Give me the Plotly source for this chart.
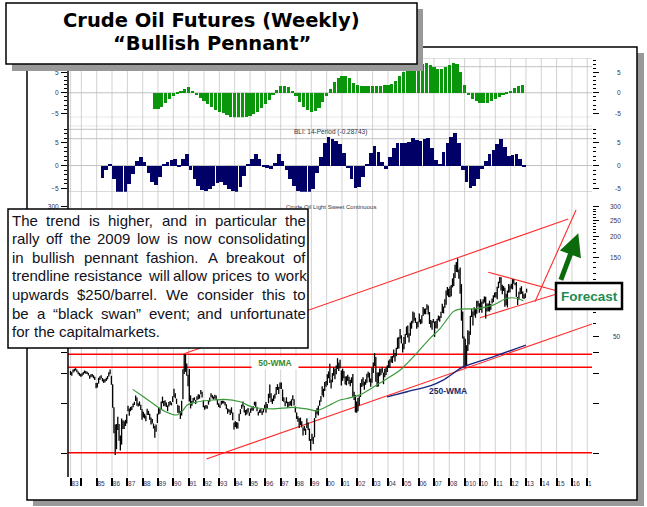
import math
import plotly.graph_objects as go

# ---------------- data ----------------
first_year, first_month = 1983, 4   # first monthly bar (Apr 1983)

price_low = [
    29.5, 29.2, 30.5, 31.0, 31.4, 30.6, 29.8, 29.2, 28.8,
    29.0, 29.6, 30.2, 30.0, 29.9, 29.3, 28.0, 28.6, 28.8, 28.2, 27.5, 24.6,
    24.8, 26.2, 27.5, 28.2, 27.0, 26.4, 26.7, 27.2, 27.8, 28.9, 29.8, 25.8,
    18.8, 13.2, 9.8, 10.6, 13.8, 11.9, 10.4, 11.3, 14.0, 14.0, 14.6, 15.1,
    17.9, 16.8, 17.9, 18.2, 18.9, 19.5, 20.6, 19.3, 19.1, 19.3, 18.2, 15.9,
    16.4, 16.2, 15.6, 17.0, 17.0, 15.9, 14.9, 15.1, 14.1, 12.4, 13.5, 15.2,
    17.1, 17.3, 18.4, 20.0, 19.2, 19.3, 19.0, 17.9, 19.1, 19.6, 19.4, 20.3,
    21.8, 21.4, 19.8, 17.5, 17.4, 16.1, 16.9, 21.1, 29.9, 30.8, 29.2, 25.3,
    20.5, 18.6, 19.3, 20.2, 20.8, 19.8, 20.9, 21.1, 21.3, 22.6, 21.6, 18.9,
    18.3, 18.6, 18.5, 19.6, 20.4, 21.7, 21.3, 21.0, 21.3, 20.9, 19.6, 19.0,
    18.7, 19.6, 19.9, 19.9, 19.4, 18.4, 17.3, 17.7, 17.0, 17.4, 15.8, 13.9,
    14.4, 14.1, 14.1, 15.6, 17.2, 18.5, 19.1, 17.6, 16.9, 17.1, 17.6, 16.8,
    17.5, 18.1, 18.0, 19.4, 19.0, 17.9, 16.9, 17.5, 17.5, 17.0, 17.6, 18.4,
    17.5, 18.6, 20.0, 21.5, 20.3, 19.8, 20.6, 21.3, 22.5, 24.0, 22.7, 24.4,
    24.3, 20.6, 20.3, 19.2, 20.0, 18.8, 19.1, 19.4, 19.2, 20.8, 19.4, 17.6,
    16.1, 15.5, 14.2, 14.8, 14.3, 12.8, 13.7, 12.9, 14.2, 13.8, 11.9, 10.4,
    11.9, 11.4, 12.5, 16.3, 17.2, 16.9, 19.3, 20.4, 22.2, 21.7, 23.7, 25.1,
    25.6, 28.2, 26.4, 24.5, 26.7, 29.2, 27.8, 29.8, 32.1, 31.2, 32.4, 25.5,
    27.2, 28.2, 25.9, 25.6, 27.2, 26.0, 25.3, 26.4, 21.8, 20.9, 17.6, 17.5,
    17.9, 19.4, 21.8, 25.0, 25.4, 24.1, 25.8, 26.5, 28.5, 26.7, 25.1, 26.5,
    30.3, 33.4, 26.9, 25.0, 25.2, 29.0, 29.5, 30.4, 26.0, 28.6, 29.5, 30.7,
    32.5, 32.6, 35.0, 34.8, 37.6, 35.6, 38.2, 42.2, 42.5, 48.6, 45.6, 40.3,
    42.1, 45.2, 51.2, 49.5, 46.2, 50.7, 55.9, 60.2, 62.4, 60.5, 55.9, 57.0,
    61.0, 59.4, 60.1, 66.5, 68.2, 68.3, 72.8, 68.0, 59.6, 56.8, 55.0, 60.7,
    49.9, 56.3, 56.0, 62.6, 61.5, 64.8, 69.4, 69.0, 74.6, 77.7, 88.3, 86.6,
    86.1, 87.5, 98.7, 100.5, 112.3, 122.3, 121.6, 111.3, 90.5, 62.4, 48.8, 32.8,
    33.2, 33.6, 41.1, 45.0, 51.3, 65.6, 58.3, 67.0, 65.0, 68.6, 75.9, 69.5,
    72.4, 69.5, 78.7, 80.1, 64.2, 70.8, 71.0, 70.8, 72.6, 79.0, 80.6, 86.0,
    86.0, 84.0, 97.7, 104.6, 94.6, 89.7, 94.0, 75.7, 77.1, 74.9, 91.8, 92.5,
    97.0, 96.1, 104.0, 101.6, 86.6, 77.3, 83.6, 89.7, 90.4, 84.6, 84.1, 85.3,
    92.0,
]
price_high = [
    31.2, 30.8, 31.8, 32.2, 32.4, 31.8, 31.0, 30.4, 29.9,
    30.2, 30.8, 31.4, 31.2, 30.9, 30.4, 29.4, 29.8, 29.9, 29.4, 28.8, 26.5,
    26.4, 28.4, 29.0, 29.4, 28.3, 27.8, 27.9, 28.4, 29.1, 30.6, 31.8, 29.2,
    26.0, 18.9, 14.9, 15.0, 16.6, 15.0, 12.8, 16.2, 15.8, 15.6, 15.9, 17.2,
    19.3, 18.6, 19.0, 19.2, 19.9, 20.4, 22.2, 21.6, 20.0, 20.5, 19.6, 18.4,
    17.8, 17.3, 16.9, 18.5, 18.0, 17.3, 16.4, 16.1, 15.1, 14.6, 14.9, 17.3,
    18.9, 18.5, 20.5, 21.9, 20.6, 20.8, 20.2, 19.4, 20.3, 20.6, 20.2, 22.0,
    24.4, 22.9, 21.3, 19.6, 19.3, 17.9, 20.7, 31.9, 39.3, 39.2, 34.6, 29.6,
    32.0, 22.3, 20.6, 21.5, 21.7, 20.9, 22.0, 22.6, 22.5, 24.0, 23.4, 20.8,
    19.3, 19.5, 19.4, 20.8, 21.6, 22.9, 22.4, 21.9, 22.5, 22.2, 21.0, 20.0,
    19.6, 20.7, 20.7, 20.7, 20.3, 19.7, 18.6, 18.4, 18.3, 18.9, 17.6, 15.3,
    15.6, 15.4, 15.3, 17.3, 18.4, 19.6, 20.5, 19.3, 18.2, 18.4, 18.7, 17.6,
    18.6, 18.9, 19.2, 20.4, 20.4, 19.0, 17.8, 18.3, 18.6, 17.9, 18.5, 19.6,
    20.3, 19.8, 22.8, 25.9, 22.9, 21.3, 22.3, 22.8, 25.0, 26.0, 25.0, 26.6,
    26.6, 24.2, 21.7, 20.5, 21.7, 20.4, 20.3, 20.6, 21.1, 22.3, 21.1, 19.1,
    17.6, 16.7, 16.3, 16.4, 15.6, 14.3, 14.6, 14.1, 16.2, 15.3, 14.1, 12.2,
    13.1, 12.6, 16.3, 18.2, 18.7, 19.3, 20.8, 22.1, 25.3, 24.4, 26.8, 27.2,
    29.8, 31.0, 34.4, 27.6, 30.3, 33.0, 32.2, 33.6, 37.2, 35.0, 36.4, 31.4,
    32.2, 31.2, 28.9, 29.0, 29.6, 28.8, 27.6, 28.6, 29.9, 23.4, 22.4, 20.5,
    21.5, 22.0, 26.4, 27.8, 28.6, 26.9, 27.8, 30.0, 30.9, 30.4, 28.1, 32.7,
    35.0, 39.9, 37.8, 30.5, 30.6, 32.3, 32.2, 32.8, 30.5, 32.2, 33.0, 33.7,
    36.0, 36.6, 38.2, 38.4, 41.9, 40.0, 43.0, 49.4, 49.9, 55.7, 51.0, 45.5,
    49.8, 51.9, 57.6, 58.3, 52.5, 60.9, 62.3, 70.8, 69.8, 65.0, 61.2, 61.8,
    69.0, 63.7, 67.2, 75.3, 73.7, 73.9, 78.4, 77.0, 70.3, 62.9, 62.2, 63.8,
    61.6, 62.1, 64.0, 67.0, 66.3, 70.5, 78.8, 75.8, 83.9, 94.7, 99.3, 96.8,
    100.1, 102.1, 111.8, 119.9, 135.1, 140.4, 147.3, 126.5, 130.0, 103.3, 70.8, 50.2,
    48.6, 44.5, 54.7, 54.0, 66.7, 73.4, 70.9, 75.0, 73.4, 82.0, 82.0, 79.4,
    83.9, 81.0, 83.8, 87.2, 86.8, 79.1, 79.0, 82.3, 78.5, 84.6, 88.6, 92.0,
    92.6, 99.5, 106.9, 113.9, 113.5, 102.4, 100.6, 98.3, 90.5, 94.6, 103.4, 101.2,
    103.7, 110.6, 110.0, 105.0, 106.5, 86.6, 92.9, 98.3, 100.4, 93.4, 89.9, 91.1,
    97.0,
]

# momentum oscillator (top, green) - quarterly readings
osc_top_start = 1988.75
osc_top_values = [
    -4.0,
    -3.9, -3.5, -2.6, -1.6,  -0.8, -0.3, 0.3, 1.0,  1.5, 0.5, -0.5, -1.2,
    -2.0, -2.8, -3.5, -4.2,  -4.7, -5.0, -5.3, -5.8,  -6.3, -6.5, -6.4, -6.0,
    -5.6, -5.2, -4.6, -3.8,  -2.8, -1.8, -0.6, 0.8,  1.6, 1.7, 1.4, 0.4,
    -0.8, -2.2, -3.4, -4.3,  -4.6, -4.5, -3.6, -2.2,  -0.8, 1.0, 2.6, 3.7,
    4.1, 4.0, 3.5, 2.4,  1.8, 1.6, 1.6, 1.6,  1.6, 1.7, 1.7, 1.8,
    1.9, 2.2, 2.8, 4.2,  5.0, 5.6, 6.0, 6.3,  6.6, 7.0, 7.2, 6.9,
    6.3, 5.9, 5.8, 6.2,  6.8, 7.2, 7.0, 5.0,  1.8, -0.5, -1.4, -2.0,
    -2.4, -2.5, -2.4, -2.1,  -1.6, -1.1, -0.6, -0.1,  0.5, 1.2, 1.7, 1.9,
]

# BLI 14-period (middle, navy) - quarterly readings
osc_bli_start = 1985.375
osc_bli_values = [
    -2.6, -1.0, 0.5,
    -3.0, -6.0, -6.6, -5.8,  -4.0, -1.8, 1.0, 2.0,  0.8, -1.5, -3.6, -4.2,
    -2.5, 0.4, 0.8, 1.3,  1.4, -0.3, 1.6, 2.7,  -1.0, -3.0, -4.5, -5.3,
    -5.6, -5.2, -4.5, -3.7,  -3.6, -4.2, -5.0, -5.6,  -5.8, -4.6, -2.2, 0.4,
    1.6, 2.5, 1.4, -0.2,  -0.4, -0.7, 0.6, 2.6,  1.0, -1.0, -3.0, -4.5,
    -5.6, -5.8, -5.9, -5.8,  -5.2, -1.5, 2.0, 5.0,  6.3, 5.9, 5.5, 4.8,
    2.8, -0.5, -3.0, -4.8,  -4.6, -2.5, 0.5, 2.8,  4.3, 3.0, 0.8, -0.6,
    2.0, 4.0, 5.0, 5.1,  5.1, 5.2, 6.2, 5.7,  5.5, 6.0, 6.2, 4.0,
    1.2, 0.5, 3.0, 5.0,  6.3, 7.2, 5.0, -1.0,  -3.5, -4.9, -4.5, -2.8,
    -0.8, 1.0, 2.5, 3.4,  4.8, 5.8, 4.2, 2.2,  2.4, 2.7, 1.4, -0.3,
]

# moving averages
wma50_years = [1987.35, 1988.0, 1988.9, 1989.6, 1990.2, 1990.6, 1990.9, 1991.5, 1992.6,
               1993.3, 1994.35, 1995.2, 1996.5, 1997.8, 1998.7, 1999.35, 2000.2, 2000.87,
               2001.5, 2002.2, 2002.9, 2003.5, 2003.9, 2004.8, 2005.87, 2006.74, 2007.4,
               2008.26, 2008.7, 2009.8, 2010.9, 2011.75, 2012.4, 2012.83]
wma50_values = [24.2, 22.0, 19.2, 17.6, 17.0, 18.0, 19.5, 20.3, 20.9,
                21.1, 20.4, 18.9, 18.5, 18.9, 18.5, 18.0, 19.5, 20.9,
                21.5, 22.5, 24.5, 26.5, 27.9, 31.6, 39.8, 48.9, 56.0,
                70.7, 73.1, 73.7, 77.6, 85.0, 85.0, 82.0]
wma250_years = [2003.94, 2005.3, 2006.75, 2007.6, 2008.9, 2010.86, 2013.0]
wma250_values = [21.8, 23.5, 25.4, 27.5, 33.0, 37.9, 44.6]

# horizontal support / resistance levels
level_values = [39.3, 32.8, 10.1]

# trendlines (two end points each: years, prices)
upper_channel_x, upper_channel_y = [1990.65, 2015.76], [39.4, 253.6]
lower_channel_x, lower_channel_y = [1992.16, 2017.31], [9.27, 59.6]
pennant_top_x, pennant_top_y = [2010.54, 2015.0], [121.6, 94.4]
pennant_bot_x, pennant_bot_y = [2010.0, 2015.0], [65.0, 90.2]
forecast_x, forecast_y = [2013.59, 2016.27], [81.1, 287.0]

year_ticks = [1983.3] + list(range(1984, 2018))
year_labels = ['83', '', '85', '86', '87', '88', '89', '90', '91', '92', '93', '94', '95',
               '96', '97', '98', '99', '00', '01', '02', '03', '04', '05', '06', '07', '08',
               '010', '10', '11', '12', '13', '14', '15', '16', '1']

price_ticks = [10, 20, 30, 40, 50, 100, 150, 200, 250, 300]
price_labels_left = ['', '', '', '', '', '', '', '', '', '300']
price_labels_right = [50, 150, 200, 250, 300]      # "100" is hidden behind the Forecast box
price_minor = [60, 70, 80, 90, 110, 120, 130, 140, 160, 170, 180, 190,
               210, 220, 230, 240, 260, 270, 280, 290]
osc_ticks = [-5, 0, 5]
osc_minor = [-6, -4, -3, -2, -1, 1, 2, 3, 4, 6, 7, 8]

note_lines = [
    "The trend is higher, and in particular the",
    "rally off the 2009 low is now consolidating",
    "in bullish pennant fashion. A breakout of",
    "trendline resistance will allow prices to work",
    "upwards $250/barrel. We consider this to",
    "be a \u201cblack swan\u201d event; and unfortunate",
    "for the capitalmarkets.",
]

# ---------------- layout geometry (pixels) ----------------
W, H = 647, 507
L, R, T, B = 68, 592, 58, 477
X0, X1 = 1983.128, 2017.309


def fx(p):
    return (p - L) / (R - L)


def fy(p):
    return (B - p) / (B - T)


TICKFONT = dict(family="Liberation Sans, Arial, sans-serif", size=6.5, color="#333355")

# Arial / Liberation Sans advance widths (1/1000 em) used to justify the note text
AW = {' ': 278, ',': 278, '.': 278, ';': 278, '/': 278, '$': 556, '\u201c': 333, '\u201d': 333,
      'A': 667, 'T': 611, 'W': 944,
      'a': 556, 'b': 556, 'c': 500, 'd': 556, 'e': 556, 'f': 278, 'g': 556, 'h': 556,
      'i': 222, 'k': 500, 'l': 222, 'm': 833, 'n': 556, 'o': 556, 'p': 556, 'r': 333,
      's': 500, 't': 278, 'u': 556, 'v': 500, 'w': 722, 'y': 500, 'x': 500}


def text_w(s, size):
    return sum(AW.get(c, 556) for c in s) * size / 1000.0


# ---------------- traces ----------------
months_x = [first_year + (first_month - 1 + i + 0.5) / 12 for i in range(len(price_low))]
seg_x, seg_y = [], []
for xm, lo, hi in zip(months_x, price_low, price_high):
    seg_x += [xm, xm, None]
    seg_y += [lo, hi, None]

fig = go.Figure()

for lv in level_values:
    fig.add_trace(go.Scatter(x=[X0, X1], y=[lv, lv], mode="lines",
                             line=dict(color="#ff0000", width=1.4), yaxis="y"))

for tx, ty in [(upper_channel_x, upper_channel_y), (lower_channel_x, lower_channel_y),
               (pennant_top_x, pennant_top_y), (pennant_bot_x, pennant_bot_y),
               (forecast_x, forecast_y)]:
    fig.add_trace(go.Scatter(x=tx, y=ty, mode="lines",
                             line=dict(color="#ff2a2a", width=1.1), yaxis="y"))

fig.add_trace(go.Scatter(x=seg_x, y=seg_y, mode="lines",
                         line=dict(color="black", width=1.3), yaxis="y"))
fig.add_trace(go.Scatter(x=wma50_years, y=wma50_values, mode="lines",
                         line=dict(color="#3a9a3a", width=1.2, shape="spline", smoothing=0.6), yaxis="y"))
fig.add_trace(go.Scatter(x=wma250_years, y=wma250_values, mode="lines",
                         line=dict(color="#1a2380", width=1.3, shape="spline", smoothing=0.6), yaxis="y"))

osc_top_x = [osc_top_start + 0.25 * i for i in range(len(osc_top_values))]
osc_bli_x = [osc_bli_start + 0.25 * i for i in range(len(osc_bli_values))]
fig.add_trace(go.Bar(x=osc_top_x, y=osc_top_values, width=0.21,
                     marker=dict(color="#0a960a", line=dict(width=0)), yaxis="y2"))
fig.add_trace(go.Bar(x=osc_bli_x, y=osc_bli_values, width=0.24,
                     marker=dict(color="#000066", line=dict(width=0)), yaxis="y3"))

# invisible anchors for the right-hand mirror axes
for ax_name, val in [("y4", 100), ("y5", 0), ("y6", 0)]:
    fig.add_trace(go.Scatter(x=[X0], y=[val], mode="markers", marker=dict(opacity=0),
                             yaxis=ax_name, hoverinfo="skip"))

# ---------------- axes ----------------
def osc_axis(domain, rng, side, overlay=None):
    d = dict(domain=domain, range=rng, anchor="x", side=side, showgrid=False, zeroline=False,
             showline=False, tickmode="array", tickvals=osc_ticks,
             ticks="outside", ticklen=6, tickwidth=1.3, tickcolor="black", tickfont=TICKFONT,
             ticklabelstandoff=1,
             minor=dict(tickmode="array", tickvals=osc_minor, ticks="outside", ticklen=3,
                        tickwidth=1, tickcolor="black"))
    if overlay:
        d.update(overlaying=overlay, showticklabels=False)
    return d


def price_axis(side, overlay=None):
    d = dict(type="log", range=[0.859, 2.524], domain=[0, 0.6635], anchor="x", side=side,
             showgrid=False, zeroline=False, showline=False, tickmode="array",
             tickvals=price_ticks, ticktext=price_labels_left, ticks="outside", ticklen=6,
             tickwidth=1.3, tickcolor="black", tickfont=TICKFONT, ticklabelstandoff=1,
             minor=dict(tickmode="array", tickvals=price_minor, ticks="outside", ticklen=3,
                        tickwidth=1, tickcolor="black"))
    if overlay:
        d.update(overlaying=overlay, showticklabels=False)
    return d


top_dom = [fy(117.3), 1.0]
bli_dom = [fy(191.7), fy(125.7)]
top_rng = [-5.98, 8.49]
bli_rng = [-5.76, 8.75]

fig.update_layout(
    width=W, height=H,
    margin=dict(l=L, r=W - R, t=T, b=H - B, pad=0),
    paper_bgcolor="white", plot_bgcolor="rgba(0,0,0,0)",
    showlegend=False, hovermode=False, bargap=0,
    xaxis=dict(range=[X0, X1], domain=[0, 1], anchor="y", showgrid=False, zeroline=False,
               showline=False, tickmode="array", tickvals=year_ticks, ticktext=year_labels,
               ticks="outside", ticklen=8, tickwidth=1.5, tickcolor="black", tickangle=0,
               ticklabelposition="outside right", ticklabelstandoff=0, tickfont=TICKFONT),
    yaxis=price_axis("left"),
    yaxis4=price_axis("right", "y"),
    yaxis2=osc_axis(top_dom, top_rng, "left"),
    yaxis5=osc_axis(top_dom, top_rng, "right", "y2"),
    yaxis3=osc_axis(bli_dom, bli_rng, "left"),
    yaxis6=osc_axis(bli_dom, bli_rng, "right", "y3"),
)

# ---------------- shapes ----------------
shapes = []
shapes.append(dict(type="rect", xref="paper", yref="paper", x0=fx(33), x1=fx(644), y0=fy(506),
                   y1=fy(53), fillcolor="#999999", line=dict(width=0), layer="below"))
shapes.append(dict(type="rect", xref="paper", yref="paper", x0=fx(27), x1=fx(637), y0=fy(500),
                   y1=fy(47), fillcolor="white", line=dict(color="black", width=1.5), layer="below"))
for yv in year_ticks:
    shapes.append(dict(type="line", xref="x", yref="paper", x0=yv, x1=yv, y0=0, y1=1,
                       line=dict(color="#d2d2d2", width=1), layer="below"))
for v in [8.49, 6.37, 0, -5.98]:
    shapes.append(dict(type="line", xref="paper", yref="y2", x0=0, x1=1, y0=v, y1=v,
                       line=dict(color="#c2c2c2", width=1), layer="below"))
for v in [8.75, 7.96, 5.89, 0, -5.76]:
    shapes.append(dict(type="line", xref="paper", yref="y3", x0=0, x1=1, y0=v, y1=v,
                       line=dict(color="#c2c2c2", width=1), layer="below"))
shapes.append(dict(type="line", xref="paper", yref="paper", x0=0, x1=0, y0=0, y1=1,
                   line=dict(color="black", width=1.5), layer="above"))
shapes.append(dict(type="rect", xref="paper", yref="paper", x0=fx(12), x1=fx(423), y0=fy(71),
                   y1=fy(9), fillcolor="#999999", line=dict(width=0), layer="above"))
shapes.append(dict(type="rect", xref="paper", yref="paper", x0=fx(6), x1=fx(417), y0=fy(64),
                   y1=fy(3), fillcolor="white", line=dict(color="black", width=1.5), layer="above"))
shapes.append(dict(type="rect", xref="paper", yref="paper", x0=fx(8), x1=fx(308), y0=fy(348),
                   y1=fy(209), fillcolor="white", line=dict(color="black", width=1.5), layer="above"))
shapes.append(dict(type="rect", xref="paper", yref="paper", x0=fx(556), x1=fx(622), y0=fy(309),
                   y1=fy(283), fillcolor="white", line=dict(color="black", width=2.5), layer="above"))
fig.update_layout(shapes=shapes)

# ---------------- annotations ----------------
ann = []
TITLE_FONT = dict(family="DejaVu Sans, Verdana, sans-serif", size=19.5, color="black")
ann.append(dict(text="<b>Crude Oil Futures (Weekly)</b>", x=fx(211.5), y=fy(20.5), xref="paper",
                yref="paper", showarrow=False, xanchor="center", yanchor="middle", font=TITLE_FONT))
ann.append(dict(text="<b>\u201cBullish Pennant\u201d</b>", x=fx(211.5), y=fy(44), xref="paper",
                yref="paper", showarrow=False, xanchor="center", yanchor="middle", font=TITLE_FONT))

# justified commentary text, one annotation per word
NOTE_SIZE = 15
NOTE_LEFT, NOTE_WIDTH = 11, 294
NOTE_FONT = dict(family="Liberation Sans, Arial, sans-serif", size=NOTE_SIZE, color="#111122")
for i, line in enumerate(note_lines):
    words = line.split(" ")
    widths = [text_w(w, NOTE_SIZE) for w in words]
    if i < len(note_lines) - 1 and len(words) > 1:
        gap = (NOTE_WIDTH - sum(widths)) / (len(words) - 1)
    else:
        gap = text_w(" ", NOTE_SIZE)
    xpos = NOTE_LEFT
    for w, wd in zip(words, widths):
        ann.append(dict(text=w, x=fx(xpos), y=fy(220 + 18.6 * i), xref="paper", yref="paper",
                        showarrow=False, xanchor="left", yanchor="middle", borderpad=0,
                        font=NOTE_FONT))
        xpos += wd + gap

# right-hand scale labels (right aligned like the original)
for v in price_labels_right:
    ann.append(dict(text=str(v), x=fx(622), y=math.log10(v), xref="paper", yref="y4",
                    showarrow=False, xanchor="right", yanchor="middle", borderpad=0, font=TICKFONT))
for axname in ["y5", "y6"]:
    for v in osc_ticks:
        ann.append(dict(text=str(v), x=fx(622), y=v, xref="paper", yref=axname,
                        showarrow=False, xanchor="right", yanchor="middle", borderpad=0,
                        font=TICKFONT))

ann.append(dict(text="<b>Forecast</b>", x=fx(589), y=fy(296), xref="paper", yref="paper",
                showarrow=False, xanchor="center", yanchor="middle",
                font=dict(family="Liberation Sans Narrow, Arial Narrow, Liberation Sans, sans-serif",
                          size=13.5, color="#228b50")))
ann.append(dict(text="", x=fx(578.3), y=fy(233.3), xref="paper", yref="paper", showarrow=True,
                ax=-18, ay=48, arrowhead=2, arrowsize=0.9, arrowwidth=5, arrowcolor="#0b6b0b"))
ann.append(dict(text="<b>50-WMA</b>", x=fx(275), y=fy(363), xref="paper", yref="paper",
                showarrow=False, xanchor="center", yanchor="middle", width=46, height=12,
                bgcolor="white", borderpad=0,
                font=dict(family="Liberation Sans Narrow, Arial Narrow, Liberation Sans, sans-serif",
                          size=8.5, color="#3a8a2a")))
ann.append(dict(text="<b>250-WMA</b>", x=fx(448), y=fy(391), xref="paper", yref="paper",
                showarrow=False, xanchor="center", yanchor="middle",
                font=dict(family="Liberation Sans Narrow, Arial Narrow, Liberation Sans, sans-serif",
                          size=8.5, color="#1a2a6a")))
ann.append(dict(text="BLI: 14-Period (-0.28743)", x=fx(330), y=fy(131.5), xref="paper",
                yref="paper", showarrow=False, xanchor="center", yanchor="middle",
                font=dict(family="Liberation Sans, Arial, sans-serif", size=6.5, color="#333344")))
ann.append(dict(text="Crude Oil Light Sweet Continuous", x=fx(331), y=fy(207), xref="paper",
                yref="paper", showarrow=False, xanchor="center", yanchor="middle",
                font=dict(family="Liberation Sans, Arial, sans-serif", size=6, color="#333344")))
fig.update_layout(annotations=ann)

fig.write_html("out.html")
